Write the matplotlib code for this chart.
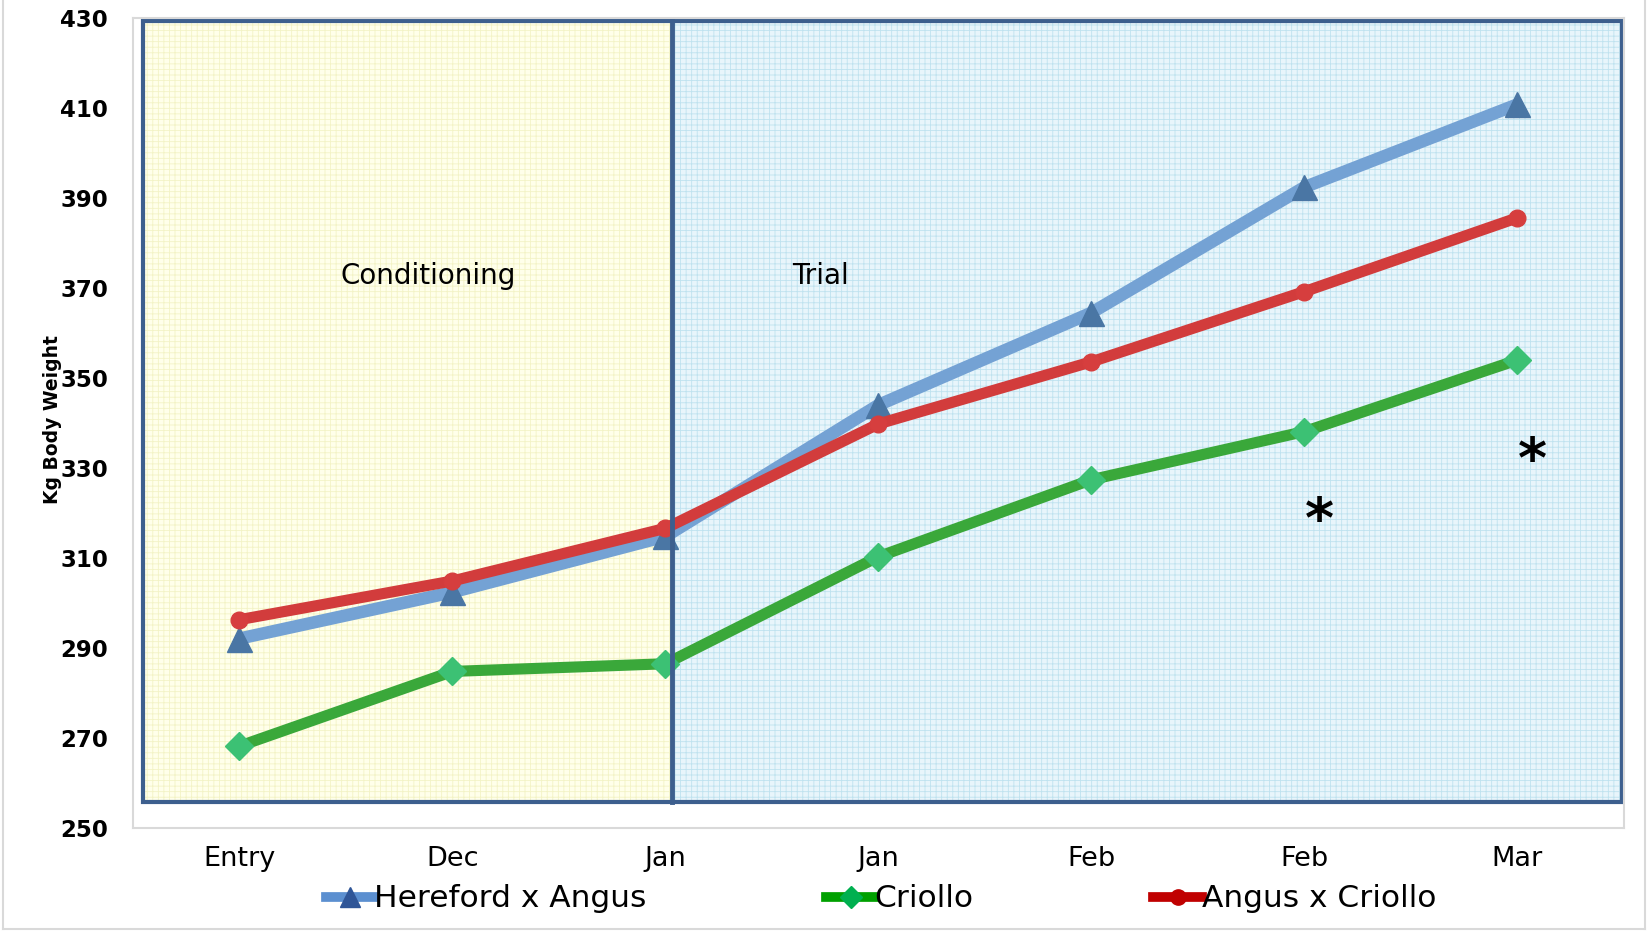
import matplotlib.pyplot as plt
from matplotlib.patches import Rectangle
from matplotlib.lines import Line2D

plt.rcParams['font.family'] = ['DejaVu Sans']
plt.rcParams['hatch.linewidth'] = 0.6

# Sampling points and mean body weights (kg)
periods = ['Entry', 'Dec', 'Jan', 'Jan', 'Feb', 'Feb', 'Mar']
hereford_angus = [292.1, 302.4, 314.8, 344.0, 364.5, 392.4, 410.8]
criollo = [268.2, 284.8, 286.5, 310.3, 327.4, 338.1, 354.0]
angus_criollo = [296.3, 304.9, 316.6, 339.8, 353.6, 369.2, 385.6]
yticks = [250, 270, 290, 310, 330, 350, 370, 390, 410, 430]

x = list(range(len(periods)))

fig = plt.figure(figsize=(16.48, 9.31), dpi=100)
ax = fig.add_axes([0.0807, 0.1106, 0.9047, 0.8701])
ax.set_xlim(-0.5, 6.5)
ax.set_ylim(250, 430)

# shaded phases
split = 2.03
box_lo, box_hi = 255.8, 429.3
ax.add_patch(Rectangle((-0.455, box_lo), split + 0.455, box_hi - box_lo,
                       facecolor='#ffffea', edgecolor='#f3f3c6', lw=0,
                       hatch='+++', zorder=0))
ax.add_patch(Rectangle((split, box_lo), 6.49 - split, box_hi - box_lo,
                       facecolor='#e8f5fb', edgecolor='#bfe2ef', lw=0,
                       hatch='+++', zorder=0))
ax.add_patch(Rectangle((-0.455, box_lo), 6.49 + 0.455, box_hi - box_lo,
                       facecolor='none', edgecolor='#3d5f8e', lw=3, zorder=1))

# series
ax.plot(x, hereford_angus, color='#74a2d4', lw=9, marker='^', ms=18,
        mfc='#4a76a4', mec='#4a76a4', zorder=3, solid_capstyle='butt')
ax.plot(x, criollo, color='#3aa83a', lw=8, marker='D', ms=14,
        mfc='#3cc174', mec='#3cc174', zorder=3, solid_capstyle='butt')
ax.plot(x, angus_criollo, color='#d23c3c', lw=8, marker='o', ms=12,
        mfc='#d63e3e', mec='#d63e3e', zorder=3, solid_capstyle='butt')

# phase divider
ax.plot([split, split], [box_lo, box_hi], color='#3d5f8e', lw=3.5, zorder=5)

ax.text(0.887, 372.6, 'Conditioning', fontsize=20, ha='center', va='center')
ax.text(2.73, 372.6, 'Trial', fontsize=20, ha='center', va='center')
ax.text(5.07, 318.0, '*', fontsize=40, fontweight='bold', ha='center', va='center')
ax.text(6.07, 331.4, '*', fontsize=40, fontweight='bold', ha='center', va='center')

ax.set_xticks(x)
ax.set_xticklabels(periods, fontsize=19.5)
ax.set_yticks(yticks)
ax.set_yticklabels([str(v) for v in yticks], fontsize=16.5, fontweight='bold')
ax.tick_params(axis='x', length=0, pad=13)
ax.tick_params(axis='y', length=0, pad=18)
for s in ax.spines.values():
    s.set_color('#d9d9d9')
    s.set_linewidth(1.5)

fig.text(0.0316, 0.549, 'Kg Body Weight', rotation=90, ha='center', va='center',
         fontsize=13.5, fontweight='bold')

handles = [
    Line2D([], [], color='#5b8fd0', lw=7, marker='^', ms=14, mfc='#2f5597', mec='#2f5597'),
    Line2D([], [], color='#00a000', lw=7, marker='D', ms=11, mfc='#00b050', mec='#00b050'),
    Line2D([], [], color='#c00000', lw=7, marker='o', ms=11, mfc='#c00000', mec='#c00000'),
]
fig.legend(handles, ['Hereford x Angus', 'Criollo', 'Angus x Criollo'],
           loc='center', bbox_to_anchor=(0.5346, 0.0344), ncol=3, frameon=False,
           fontsize=22.5, handlelength=1.55, handletextpad=0.0, columnspacing=5.75)

# outer chart border
for xs, ys in [([0.002, 0.002], [0.002, 1.0]), ([0.998, 0.998], [0.002, 1.0]),
               ([0.002, 0.998], [0.002, 0.002])]:
    fig.add_artist(Line2D(xs, ys, color='#d9d9d9', lw=1.5))

fig.savefig('out.png', dpi=100)
